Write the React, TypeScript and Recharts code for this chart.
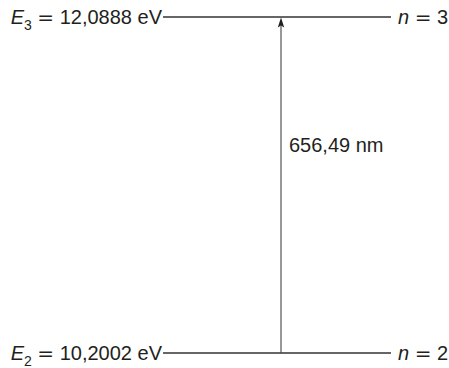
import { ComposedChart, XAxis, YAxis, ReferenceLine, Line } from "recharts";

// energy levels of hydrogen (Balmer H-alpha)
const levelN = [2, 3];
const levelEnergy = [10.2002, 12.0888];
const levelEnergyText = ["10,2002", "12,0888"];
const wavelengthText = "656,49 nm";

const levels = levelN.map((n, i) => ({
  n,
  energy: levelEnergy[i],
  text: levelEnergyText[i],
}));

const W = 449;
const H = 368;
const lineStart = 163;
const lineEnd = 391;
const arrowX = 281;
const ink = "#231f20";
const font = "'Liberation Sans', Arial, Helvetica, sans-serif";
const eqFont = "'DejaVu Sans', sans-serif";

// both ends of the arrow, drawn as a series
const arrowData = levels.map((lv) => ({ x: arrowX, energy: lv.energy }));

function LevelLabel({ viewBox, level }: any) {
  if (!viewBox) return null;
  const { x, y, width } = viewBox;
  const base = y + 7;
  return (
    <g fontFamily={font} fontSize={20} fill={ink}>
      <text x={x - 1} y={base} textAnchor="end">
        <tspan fontStyle="italic">E</tspan>
        <tspan fontSize={14} dy={6}>
          {level.n}
        </tspan>
        <tspan dy={-6}> </tspan>
        <tspan fontFamily={eqFont}>=</tspan>
        <tspan>{` ${level.text} eV`}</tspan>
      </text>
      <text x={x + width + 7} y={base} textAnchor="start">
        <tspan fontStyle="italic">n</tspan>
        <tspan> </tspan>
        <tspan fontFamily={eqFont}>=</tspan>
        <tspan>{` ${level.n}`}</tspan>
      </text>
    </g>
  );
}

function Arrow(props: any) {
  const { points } = props;
  if (!points || points.length < 2) return null;
  const x = points[0].x;
  const ys = points.map((p: any) => p.y);
  const top = Math.min(...ys) + 0.6;
  const bottom = Math.max(...ys);
  return (
    <g>
      <line x1={x} y1={bottom} x2={x} y2={top + 8} stroke="#444" strokeWidth={1.1} />
      <polygon
        points={`${x},${top} ${x - 3.2},${top + 10} ${x},${top + 8} ${x + 3.2},${top + 10}`}
        fill={ink}
      />
      <text x={x + 8} y={top + (bottom - top) * 0.401} fontFamily={font} fontSize={20} fill={ink}>
        {wavelengthText}
      </text>
    </g>
  );
}

export default function App() {
  return (
    <div style={{ position: "absolute", left: 0, top: 0, width: W, height: H, background: "#fff" }}>
      <ComposedChart
        width={W}
        height={H}
        data={arrowData}
        margin={{ top: 17, right: 0, bottom: 15, left: 0 }}
      >
        <XAxis type="number" dataKey="x" domain={[0, W]} hide />
        <YAxis type="number" dataKey="energy" domain={[levelEnergy[0], levelEnergy[1]]} hide />
        {levels.map((lv) => (
          <ReferenceLine
            key={lv.n}
            ifOverflow="visible"
            segment={[
              { x: lineStart, y: lv.energy },
              { x: lineEnd, y: lv.energy },
            ]}
            stroke="#333"
            strokeWidth={1.3}
            label={<LevelLabel level={lv} />}
          />
        ))}
        <Line
          dataKey="energy"
          isAnimationActive={false}
          dot={false}
          activeDot={false}
          shape={Arrow}
          stroke="#444"
        />
      </ComposedChart>
    </div>
  );
}
